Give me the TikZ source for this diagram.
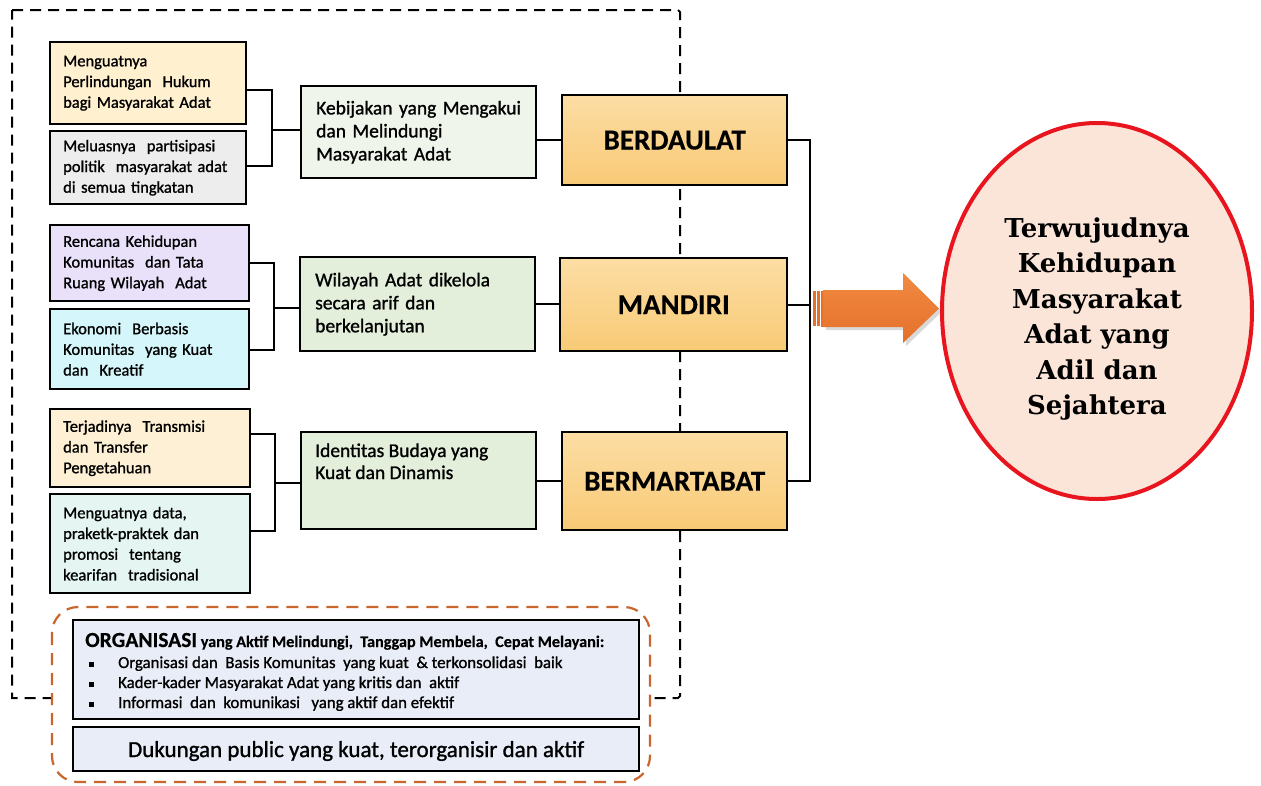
\documentclass[tikz,border=0pt]{standalone}
\usepackage{fontspec}
\setmainfont{Carlito}[FakeBold=1.1, BoldFont=Carlito Bold, BoldFeatures={FakeBold=0.3}]
\newfontfamily\ellfont{DejaVu Serif}
\usetikzlibrary{shapes.geometric}

\definecolor{cLa}{RGB}{255,240,207}
\definecolor{cLb}{RGB}{237,237,237}
\definecolor{cLc}{RGB}{233,224,249}
\definecolor{cLd}{RGB}{213,246,250}
\definecolor{cLe}{RGB}{253,240,212}
\definecolor{cLf}{RGB}{229,246,242}
\definecolor{cMa}{RGB}{239,245,234}
\definecolor{cMb}{RGB}{227,239,218}
\definecolor{cOrg}{RGB}{233,237,248}
\definecolor{cRt}{RGB}{252,221,164}
\definecolor{cRb}{RGB}{248,202,118}
\definecolor{cArrT}{RGB}{242,138,66}
\definecolor{cArrB}{RGB}{228,112,42}
\definecolor{cEll}{RGB}{251,229,216}
\definecolor{cRed}{RGB}{232,20,30}
\definecolor{cDashO}{RGB}{200,102,45}

\begin{document}
\begin{tikzpicture}[x=1pt,y=-1pt,
  box/.style={draw=black, line width=2.4pt, rectangle, anchor=north west, inner sep=0pt},
  leftbox/.style={box, inner xsep=13pt, align=left, font=\fontsize{16.5}{20.7}\selectfont},
  midbox/.style={box, inner xsep=15pt, align=left, font=\fontsize{19.5}{23}\selectfont},
  rightbox/.style={box, top color=cRt, bottom color=cRb},
  rlabel/.style={font=\fontsize{29}{32}\selectfont\bfseries},
  conn/.style={draw=black, line width=2pt},
  outerdash/.style={draw=black, line width=2pt, dash pattern=on 11pt off 7pt},
  orgdash/.style={draw=cDashO, line width=2.2pt, dash pattern=on 12pt off 8pt, rounded corners=26pt},
  bul/.style={anchor=base west, inner sep=0pt, font=\fontsize{16.8}{20}\selectfont}
]
\useasboundingbox (0,0) rectangle (1261,785);

% outer dashed frame
\draw[outerdash] (12,10) -- (678,10) -- (680,12) -- (680,696) -- (678,698) -- (12,698) -- cycle;

% left column
\node[leftbox, fill=cLa, text width=170pt, minimum height=82pt] (L1) at (49,41)
  {Menguatnya\\Perlindungan~~Hukum\\bagi Masyarakat~Adat};
\node[leftbox, fill=cLb, text width=170pt, minimum height=73pt] (L2) at (49,130)
  {Meluasnya~~partisipasi\\politik~~masyarakat adat\\di semua tingkatan};
\node[leftbox, fill=cLc, text width=173pt, minimum height=76pt] (L3) at (49,224)
  {Rencana~Kehidupan\\Komunitas~~dan Tata\\Ruang~Wilayah~~Adat};
\node[leftbox, fill=cLd, text width=173pt, minimum height=80pt] (L4) at (49,308)
  {Ekonomi~~Berbasis\\Komunitas~~yang Kuat\\dan~~Kreatif};
\node[leftbox, fill=cLe, text width=174pt, minimum height=78pt] (L5) at (49,408)
  {Terjadinya~~Transmisi\\dan Transfer\\Pengetahuan};
\node[leftbox, fill=cLf, text width=174pt, minimum height=99pt] (L6) at (49,493)
  {Menguatnya~data,\\praketk-praktek dan\\promosi~~tentang\\kearifan~~tradisional};

% middle column
\node[midbox, fill=cMa, text width=205pt, minimum height=92pt] (M1) at (300,85)
  {Kebijakan yang Mengakui\\dan Melindungi\\Masyarakat Adat};
\node[midbox, fill=cMb, text width=205pt, minimum height=94pt] (M2) at (299,256)
  {Wilayah Adat dikelola\\secara arif dan\\berkelanjutan};
\node[box, fill=cMb, minimum width=235pt, minimum height=97pt] (M3) at (300,431) {};
\node[anchor=base west, inner sep=0pt, font=\fontsize{19.5}{22}\selectfont] (M3t) at (315,457)
  {Identitas Budaya yang};
\node[anchor=base west, inner sep=0pt, font=\fontsize{19.5}{22}\selectfont] (M3u) at (315,479)
  {Kuat dan Dinamis};

% right column
\node[rightbox, minimum width=225pt, minimum height=90pt] (R1) at (561,94) {};
\node[rlabel] (R1t) at (R1.center) {BERDAULAT};
\node[rightbox, minimum width=227pt, minimum height=93pt] (R2) at (559,257) {};
\node[rlabel] (R2t) at (R2.center) {MANDIRI};
\node[rightbox, minimum width=225pt, minimum height=98pt] (R3) at (561,431) {};
\node[rlabel] (R3t) at (R3.center) {BERMARTABAT};

% brackets left -> middle
\coordinate (bra) at (272,130);
\coordinate (brb) at (274,308);
\coordinate (brc) at (275,483);
\draw[conn] ([yshift=-7pt]L1.east) -| (bra) |- ([yshift=1.5pt]L2.east);
\draw[conn] (bra) -- (bra -| M1.west);
\draw[conn] (L3.east) -| (brb) |- ([yshift=-1pt]L4.east);
\draw[conn] (brb) -- (brb -| M2.west);
\draw[conn] ([yshift=14pt]L5.east) -| (brc) |- ([yshift=12.5pt]L6.east);
\draw[conn] (brc) -- (brc -| M3.west);

% middle -> right
\draw[conn] (M1.east |- R1.west) -- (R1.west);
\draw[conn] (M2.east) -- (M2.east -| R2.west);
\draw[conn] (M3.east |- R3.west) -- (R3.west);

% right spine
\coordinate (sp) at (810,0);
\draw[conn] (R1.east) -- (R1.east -| sp) -- (R3.east -| sp) -- (R3.east);
\draw[conn] (R2.east) -- (R2.east -| sp);

% arrow
\fill[black, opacity=0.15] (826,293) -- (906,293) -- (906,276) -- (942,311.5) -- (906,346) -- (906,330) -- (826,330) -- cycle;
\shade[top color=cArrT, bottom color=cArrB] (823,290) -- (903,290) -- (903,273) -- (939,308.5) -- (903,343) -- (903,327) -- (823,327) -- cycle;
\fill[cArrB] (813,291) rectangle (815.5,326);
\fill[cArrB] (817,291) rectangle (819.5,326);
\fill[cArrB] (820.5,290.5) rectangle (822.5,326.5);

% goal ellipse
\node[ellipse, draw=cRed, line width=4pt, fill=cEll, minimum width=310pt, minimum height=376pt,
  inner sep=0pt] (goal) at (1097,311) {};
\node[align=center, inner sep=0pt, font=\ellfont\fontsize{26}{35.5}\selectfont\bfseries] (goalt)
  at ([yshift=-8pt]goal.center)
  {Terwujudnya\\Kehidupan\\Masyarakat\\Adat yang\\Adil dan\\Sejahtera};

% bottom organisation block
\draw[orgdash, fill=white] (52,607) rectangle (650,782);
\node[box, fill=cOrg, minimum width=566pt, minimum height=99pt] (org) at (72,619) {};
\node[anchor=base west, inner sep=0pt, font=\fontsize{21.5}{24}\selectfont\bfseries] (orgt) at (85,647)
  {ORGANISASI{\fontsize{16.2}{18}\selectfont\ yang Aktif Melindungi,~~Tanggap Membela,~~Cepat Melayani:}};
\node[bul] (ba) at (89,668) {\makebox[29pt][l]{\rule[1.5pt]{4.5pt}{4.5pt}}Organisasi~dan~~Basis~Komunitas~~yang~kuat~~\&~terkonsolidasi~~baik};
\node[bul] (bb) at (89,688) {\makebox[29pt][l]{\rule[1.5pt]{4.5pt}{4.5pt}}Kader-kader~Masyarakat~Adat~yang~kritis~dan~~aktif};
\node[bul] (bc) at (89,708) {\makebox[29pt][l]{\rule[1.5pt]{4.5pt}{4.5pt}}Informasi~~dan~~komunikasi~~~yang~aktif~dan~efektif};
\node[box, fill=cOrg, minimum width=566pt, minimum height=44pt] (duk) at (72,726) {};
\node[anchor=base, inner sep=0pt, font=\fontsize{23}{26}\selectfont] (dukt) at (duk.center |- 0,757)
  {Dukungan public yang kuat, terorganisir dan aktif};
\end{tikzpicture}
\end{document}
